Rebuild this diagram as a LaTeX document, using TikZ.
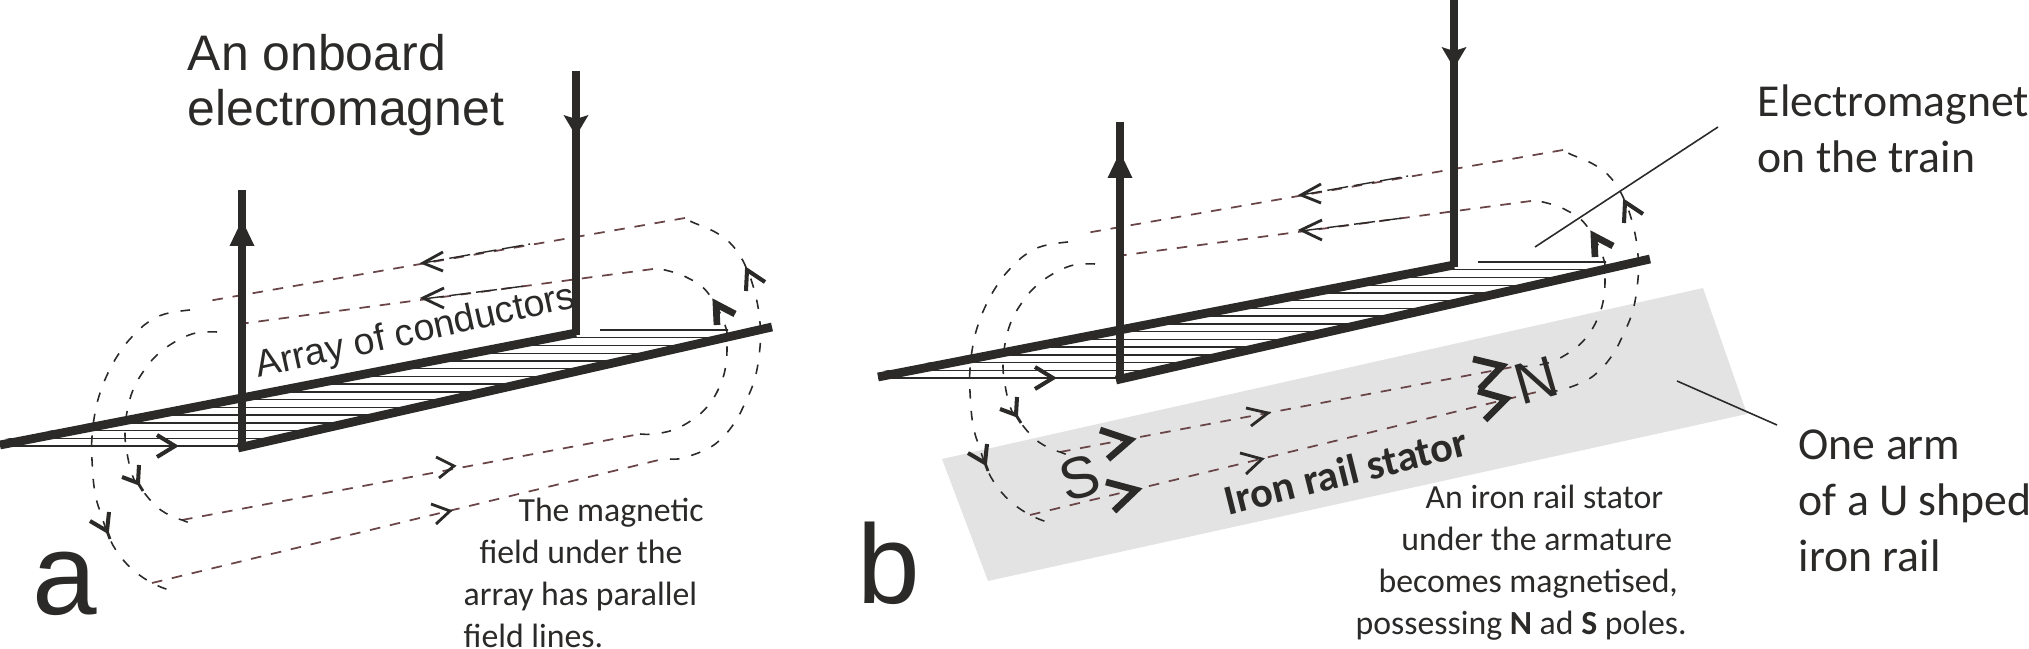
\documentclass[tikz,border=0pt]{standalone}
\usepackage{fontspec}
\setmainfont{Carlito}
\newfontfamily\arialfont{Liberation Sans}
\usepackage{xcolor}
\usetikzlibrary{calc}
\definecolor{railink}{HTML}{2B2A29}
\definecolor{fieldbrown}{HTML}{6A4548}
\definecolor{statorgrey}{HTML}{E3E3E3}
\tikzset{
  railline/.style={draw=railink,line width=2.5pt},
  wireline/.style={draw=railink,line width=2.2pt},
  hatchline/.style={draw=railink,line width=0.4pt},
  fieldcurve/.style={draw=railink,line width=0.45pt,dash pattern=on 2.7pt off 3.5pt},
  fieldline/.style={draw=fieldbrown,line width=0.5pt,dash pattern=on 3pt off 2.8pt},
  fielddark/.style={draw=railink,line width=0.4pt,dash pattern=on 6pt off 1.6pt},
  headthin/.style={draw=railink,line width=0.8pt},
  headbold/.style={draw=railink,line width=1.15pt},
  headheavy/.style={draw=railink,line width=1.9pt},
  leaderline/.style={draw=railink,line width=0.45pt},
  smalltext/.style={inner sep=0pt,anchor=north west,align=left,text=railink,font=\fontsize{9.6}{12}\selectfont},
  calloutext/.style={inner sep=0pt,anchor=north west,align=left,text=railink,font=\fontsize{13}{15.9}\selectfont},
  arialtext/.style={inner sep=0pt,text=railink,font=\arialfont}
}

\begin{document}
\begin{tikzpicture}[x=0.01cm,y=-0.01cm]
  \useasboundingbox (0,0) rectangle (2029,649);
  \newcommand{\chev}[4]{\draw[#4,line join=miter] (#1) -- (#2) -- (#3);}
  \newcommand{\armature}[3]{%
    \begin{scope}[shift={(#1,#2)}]
      % conductors
      \begin{scope}
        \clip (0,440) -- (576,333) -- (600,333) -- (600,326) -- (728,326) -- (728,336) -- (242,449) -- (0,449) -- cycle;
        \foreach \ii in {0,...,15}{%
          \draw[hatchline] (0,{446-\ii*7.73}) -- (780,{446-\ii*7.73});
        }%
      \end{scope}
      % field loops
      \draw[fieldline] (685,218) -- (208,301);
      \draw[fieldline] (653,269) -- (232,325);
      \draw[fieldline] (152,583) -- (667,458);
      \draw[fieldline] (182,520) -- (640,434);
      \draw[fielddark] (423,263) -- (530,244);
      \draw[fielddark] (423,299) -- (525,286);
      \draw[fieldcurve] plot[smooth,tension=0.7] coordinates {(190,310) (165,314) (147,323) (130,339) (118,355) (108,373) (100,393) (95,413) (92,437) (92,460) (95,493) (102,517) (109,537) (118,553) (132,569) (152,583) (172,591)};
      \draw[fieldcurve] plot[smooth,tension=0.7] coordinates {(217,332) (207,332) (192,334) (173,343) (156,356) (143,372) (133,390) (127,412) (125,433) (127,453) (133,477) (142,490) (157,507) (173,517) (182,520) (197,526)};
      \draw[fieldcurve] plot[smooth,tension=0.7] coordinates {(670,459) (683,458) (707,449) (722,438) (735,422) (745,403) (755,378) (760,347) (760,323) (755,293) (745,265) (732,245) (715,232) (692,222) (685,218)};
      \draw[fieldcurve] plot[smooth,tension=0.7] coordinates {(640,434) (653,434) (673,430) (692,420) (707,407) (718,390) (725,370) (727,347) (725,325) (708,293) (688,278) (665,270) (653,269)};
      % wires and rails
      \draw[wireline] (242,190) -- (242,449);
      \draw[wireline] (576,#3) -- (576,335);
      \draw[railline] (0,445) -- (576,333);
      \draw[railline] (238,448) -- (772,327);
      \fill[railink] (242,220) -- (254.5,246) -- (229.5,246) -- cycle;
      \fill[railink] (576,136) -- (563.5,115) -- (576,119) -- (588.5,115) -- cycle;
      % arrow heads on the loops
      \chev{157,435}{175,446}{157,457}{headbold}
      \chev{443,252}{423,263}{443,271}{headthin}
      \chev{444,288}{423,298}{444,308}{headthin}
      \chev{122,477}{138,483}{139,465}{headbold}
      \chev{90,521}{107,531}{109,512}{headbold}
      \draw[headthin] (138,483) -- (143,491);
      \draw[headthin] (107,531) -- (110,539);
      \chev{746,291}{747,270}{765,282}{headbold}
      \chev{717,325}{716,304}{735,314}{headheavy}
    \end{scope}}

  \fill[statorgrey] (942,459) -- (1703,288) -- (1747,414) -- (988,581) -- cycle;
  \armature{0}{0}{71}
  \armature{878}{-68}{68}

  % panel a
  \chev{436,457}{454,466}{439,478}{headthin}
  \chev{431,504}{450,511}{436,524}{headthin}
  \node[arialtext,anchor=base west,font=\arialfont\fontsize{14.2}{15.7}\selectfont,align=left] (onboard) at (187,126) {An onboard\\electromagnet};
  \node[arialtext,rotate=12.5,font=\arialfont\fontsize{10.7}{12}\selectfont] (conductors) at (416,333) {Array of conductors};
  \node[smalltext] (magtext) at (463,497) {\hspace*{15.6pt}The magnetic\\\hspace*{4.5pt}field under the\\array has parallel\\field lines.};
  \node[arialtext,anchor=base west,font=\arialfont\fontsize{33}{33}\selectfont] (panela) at (32,615) {a};

  % panel b
  \chev{1246,408}{1268,413}{1251,426}{headthin}
  \chev{1240,453}{1262,459}{1246,474}{headthin}
  \chev{1100,430}{1130,440}{1108,459}{headheavy}
  \chev{1106,482}{1136,490}{1114,511}{headheavy}
  \chev{1473,359}{1502,366}{1480,389}{headheavy}
  \chev{1478,391}{1506,399}{1485,420}{headheavy}
  \node[arialtext,rotate=16,font=\arialfont\fontsize{16.6}{18}\selectfont] (spole) at (1080,478) {S};
  \node[arialtext,rotate=16,font=\arialfont\fontsize{16.6}{18}\selectfont] (npole) at (1536,380) {N};
  \node[inner sep=0pt,rotate=14,text=railink,font=\bfseries\fontsize{12}{14}\selectfont] (ironrail) at (1346,471) {Iron rail stator};
  \node[smalltext] (statortext) at (1355,484) {\hspace*{19.9pt}An iron rail stator\\\hspace*{13pt}under the armature\\\hspace*{6.5pt}becomes magnetised,\\possessing \textbf{N} ad \textbf{S} poles.};
  \node[arialtext,anchor=base west,font=\arialfont\fontsize{32}{32}\selectfont] (panelb) at (857,604) {b};

  % callouts
  \node[calloutext] (trainlabel) at (1757,84) {Electromagnet\\on the train};
  \node[calloutext] (armlabel) at (1798,429) {One arm\\of a U shped\\iron rail};
  \coordinate (trainfoot) at (1535,247);
  \coordinate (traintop) at (1718,127);
  \coordinate (armfoot) at (1677,381);
  \coordinate (armend) at (1777,425);
  \draw[leaderline] (trainfoot) -- (traintop);
  \draw[leaderline] (armfoot) -- (armend);
\end{tikzpicture}
\end{document}
